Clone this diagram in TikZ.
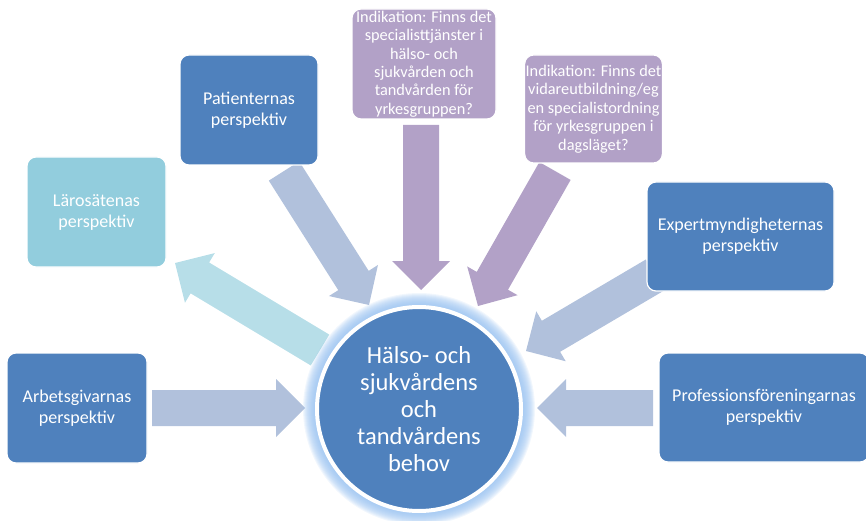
\documentclass[tikz,border=0pt]{standalone}
\usepackage{fontspec}
\setmainfont{Carlito}
\usetikzlibrary{calc}
\definecolor{boxblue}{RGB}{79,129,189}
\definecolor{arrblue}{RGB}{177,193,220}
\definecolor{tealbox}{RGB}{146,205,221}
\definecolor{tealarr}{RGB}{183,222,232}
\definecolor{purp}{RGB}{178,161,199}
\definecolor{glowc}{RGB}{150,192,240}
\pgfdeclarelayer{arrlayer}
\pgfdeclarelayer{glowlayer}
\pgfsetlayers{arrlayer,glowlayer,main}
\newcommand\blockarrow[3]{%
  \coordinate (ba-h) at ($(#3)!29pt!(#2)$);
  \fill[#1] ($(#2)!18pt!90:(#3)$) -- ($(ba-h)!18pt!90:(#3)$) -- ($(ba-h)!29pt!90:(#3)$) -- (#3)
    -- ($(ba-h)!29pt!-90:(#3)$) -- ($(ba-h)!18pt!-90:(#3)$) -- ($(#2)!18pt!-90:(#3)$) -- cycle;}
\tikzset{
  box/.style={rectangle, rounded corners=9pt, draw=white, line width=1.2pt, fill=boxblue,
    text=white, align=center, inner sep=2pt, font=\fontsize{18}{21}\selectfont},
  purpbox/.style={box, fill=purp, inner sep=1pt, font=\fontsize{16.3}{18.4}\selectfont},
  tealstyle/.style={box, fill=tealbox},
  hubstyle/.style={circle, fill=boxblue, draw=white, line width=4pt, minimum size=204pt,
    text=white, align=center, inner sep=0pt, font=\fontsize{24.5}{27}\selectfont}
}
\begin{document}
\begin{tikzpicture}[x=1pt,y=-1pt]
\useasboundingbox (0,0) rectangle (866,521);
% nodes
\node[hubstyle] (hub) at (419,409) {Hälso- och\\sjukvårdens\\och\\tandvårdens\\behov};
\node[box, minimum width=140pt, minimum height=110pt] (arb) at (77,408) {Arbetsgivarnas\\perspektiv};
\node[tealstyle, minimum width=139pt, minimum height=110pt] (laro) at (96.5,212) {Lärosätenas\\perspektiv};
\node[box, minimum width=138pt, minimum height=110pt] (pat) at (249,110) {Patienternas\\perspektiv};
\node[purpbox, minimum width=144pt, minimum height=110pt] (pur1) at (424,64) {Indikation: Finns det\\specialisttjänster i\\hälso- och\\sjukvården och\\tandvården för\\yrkesgruppen?};
\node[purpbox, minimum width=137pt, minimum height=108pt] (pur2) at (593.5,109) {Indikation: Finns det\\vidareutbildning/eg\\en specialistordning\\för yrkesgruppen i\\dagsläget?};
\node[box, minimum width=187pt, minimum height=109pt] (exp) at (740.5,236.5) {Expertmyndigheternas\\perspektiv};
\node[box, minimum width=210pt, minimum height=109pt] (prof) at (764,407.5) {Professionsföreningarnas\\perspektiv};
% arrow end points
\coordinate (a1s) at (152,408); \coordinate (a1e) at (305,408);
\coordinate (a2s) at (653,408); \coordinate (a2e) at (537,408);
\coordinate (a3s) at (320,350); \coordinate (a3e) at (175,263);
\coordinate (a4s) at (284,171); \coordinate (a4e) at (369,305);
\coordinate (a5s) at (421,125); \coordinate (a5e) at (421,290);
\coordinate (a6s) at (555,171); \coordinate (a6e) at (478,306);
\coordinate (a7s) at (655,275); \coordinate (a7e) at (526,351);
\begin{pgfonlayer}{arrlayer}
\blockarrow{arrblue}{a1s}{a1e}
\blockarrow{arrblue}{a2s}{a2e}
\blockarrow{tealarr}{a3s}{a3e}
\blockarrow{arrblue}{a4s}{a4e}
\blockarrow{purp}{a5s}{a5e}
\blockarrow{purp}{a6s}{a6e}
\blockarrow{arrblue}{a7s}{a7e}
\end{pgfonlayer}
\begin{pgfonlayer}{glowlayer}
\foreach \r in {116,115,...,104}
  \fill[glowc, opacity=0.13] (hub.center) circle[radius=\r pt];
\end{pgfonlayer}
\end{tikzpicture}
\end{document}
